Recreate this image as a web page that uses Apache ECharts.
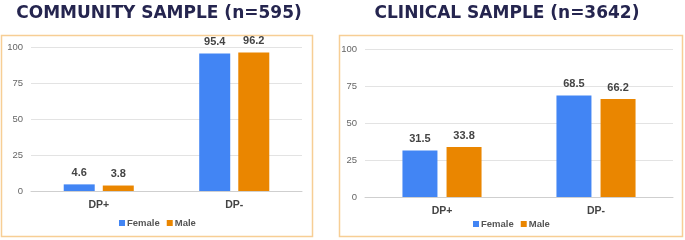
<!DOCTYPE html>
<html><head><meta charset="utf-8">
<script src="https://cdn.jsdelivr.net/npm/echarts@6/dist/echarts.min.js"></script>
<style>html,body{margin:0;padding:0;background:#fff}#c{width:685px;height:240px}</style>
</head><body><div id="c"></div>
<script>
const categories = ['DP+', 'DP-'];
const seriesNames = ['Female', 'Male'];
const communityFemale = [4.6, 95.4];
const communityMale = [3.8, 96.2];
const clinicalFemale = [31.5, 68.5];
const clinicalMale = [33.8, 66.2];
const titles = ['COMMUNITY SAMPLE (n=595)', 'CLINICAL SAMPLE (n=3642)'];
const yMin = 0, yMax = 100, yStep = 25;

const BLUE = '#4285F4', ORANGE = '#EA8600';
const chart = echarts.init(document.getElementById('c'), null, {renderer: 'canvas'});

function xAxis(gi) {
  return {type: 'category', gridIndex: gi, data: categories,
    axisLine: {show: true, lineStyle: {color: '#cfcfcf'}}, axisTick: {show: false},
    axisLabel: {color: '#444', fontSize: 10.5, fontWeight: 'bold', fontFamily: 'Liberation Sans, Arial', margin: 9}};
}
function yAxis(gi) {
  return {type: 'value', gridIndex: gi, min: yMin, max: yMax, interval: yStep,
    axisLine: {show: false}, axisTick: {show: false},
    splitLine: {lineStyle: {color: '#e3e3e3'}},
    axisLabel: {color: '#666', fontSize: 9.5, fontFamily: 'Liberation Sans, Arial', margin: 8}};
}
function bar(name, data, gi, color, bw) {
  return {type: 'bar', name, data, xAxisIndex: gi, yAxisIndex: gi,
    barWidth: bw, barGap: '26%', itemStyle: {color},
    label: {show: true, position: 'top', distance: 6, color: '#444', fontWeight: 'bold',
      fontSize: 11, fontFamily: 'Liberation Sans, Arial'}};
}
const legendCommon = {itemWidth: 6, itemHeight: 6, itemGap: 7, icon: 'rect',
  textStyle: {color: '#555', fontSize: 9.5, fontWeight: 'bold', fontFamily: 'Liberation Sans, Arial', padding: [0,0,0,-3]},
  data: seriesNames};

chart.setOption({
  animation: false,
  title: [
    {text: titles[0], left: 154, top: 0, textAlign: 'center',
      textStyle: {color: '#25254f', fontSize: 17, fontWeight: 'bold', fontFamily: 'DejaVu Sans'}},
    {text: titles[1], left: 502, top: 0, textAlign: 'center',
      textStyle: {color: '#25254f', fontSize: 17, fontWeight: 'bold', fontFamily: 'DejaVu Sans'}}
  ],
  graphic: [
    {type: 'rect', shape: {x: 1.5, y: 35.5, width: 311, height: 201}, style: {fill: 'none', stroke: '#F7CE95', lineWidth: 1.5}, silent: true},
    {type: 'rect', shape: {x: 339.5, y: 35.5, width: 343, height: 201}, style: {fill: 'none', stroke: '#F7CE95', lineWidth: 1.5}, silent: true}
  ],
  legend: [
    Object.assign({left: 119, top: 218, padding: 0}, legendCommon),
    Object.assign({left: 473, top: 219, padding: 0}, legendCommon)
  ],
  grid: [
    {left: 31, right: 383, top: 47, bottom: 49},
    {left: 365, right: 12, top: 49, bottom: 43}
  ],
  xAxis: [xAxis(0), xAxis(1)],
  yAxis: [yAxis(0), yAxis(1)],
  series: [
    bar(seriesNames[0], communityFemale, 0, BLUE, 31),
    bar(seriesNames[1], communityMale, 0, ORANGE, 31),
    bar(seriesNames[0], clinicalFemale, 1, BLUE, 35),
    bar(seriesNames[1], clinicalMale, 1, ORANGE, 35)
  ]
});
</script></body></html>
